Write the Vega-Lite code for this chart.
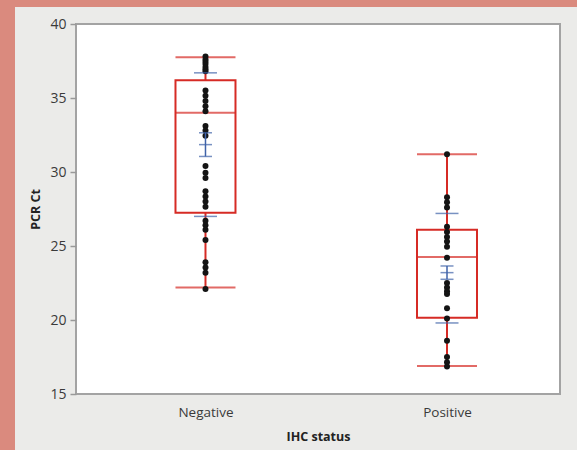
{
  "$schema": "https://vega.github.io/schema/vega-lite/v6.json",
  "background": "#ebebe9",
  "padding": 0,
  "config": {"font": "Open Sans"},
  "datasets": {
    "summary": [
      {"group": "Negative", "lower": 22.2, "q1": 27.25, "median": 34.0, "q3": 36.2, "upper": 37.75, "mean": 31.85, "seLow": 31.05, "seHigh": 32.65, "sdLow": 27.0, "sdHigh": 36.7},
      {"group": "Positive", "lower": 16.9, "q1": 20.15, "median": 24.25, "q3": 26.1, "upper": 31.2, "mean": 23.2, "seLow": 22.75, "seHigh": 23.65, "sdLow": 19.8, "sdHigh": 27.2}
    ],
    "points": [
      {"group": "Negative", "ct": 37.8}, {"group": "Negative", "ct": 37.6}, {"group": "Negative", "ct": 37.45}, {"group": "Negative", "ct": 37.3},
      {"group": "Negative", "ct": 37.1}, {"group": "Negative", "ct": 36.95}, {"group": "Negative", "ct": 36.8}, {"group": "Negative", "ct": 35.5},
      {"group": "Negative", "ct": 35.15}, {"group": "Negative", "ct": 34.8}, {"group": "Negative", "ct": 34.45}, {"group": "Negative", "ct": 34.1},
      {"group": "Negative", "ct": 33.1}, {"group": "Negative", "ct": 32.8}, {"group": "Negative", "ct": 32.45}, {"group": "Negative", "ct": 30.4},
      {"group": "Negative", "ct": 29.95}, {"group": "Negative", "ct": 29.6}, {"group": "Negative", "ct": 28.7}, {"group": "Negative", "ct": 28.35},
      {"group": "Negative", "ct": 28.0}, {"group": "Negative", "ct": 27.65}, {"group": "Negative", "ct": 26.7}, {"group": "Negative", "ct": 26.4},
      {"group": "Negative", "ct": 26.1}, {"group": "Negative", "ct": 25.4}, {"group": "Negative", "ct": 23.9}, {"group": "Negative", "ct": 23.55},
      {"group": "Negative", "ct": 23.2}, {"group": "Negative", "ct": 22.1},
      {"group": "Positive", "ct": 31.2}, {"group": "Positive", "ct": 28.3}, {"group": "Positive", "ct": 27.95}, {"group": "Positive", "ct": 27.6},
      {"group": "Positive", "ct": 26.3}, {"group": "Positive", "ct": 25.95}, {"group": "Positive", "ct": 25.6}, {"group": "Positive", "ct": 25.3},
      {"group": "Positive", "ct": 24.95}, {"group": "Positive", "ct": 24.2}, {"group": "Positive", "ct": 22.5}, {"group": "Positive", "ct": 22.2},
      {"group": "Positive", "ct": 21.95}, {"group": "Positive", "ct": 21.75}, {"group": "Positive", "ct": 20.8}, {"group": "Positive", "ct": 20.1},
      {"group": "Positive", "ct": 18.6}, {"group": "Positive", "ct": 17.5}, {"group": "Positive", "ct": 17.15}, {"group": "Positive", "ct": 16.85}
    ]
  },
  "spacing": 0,
  "vconcat": [
    {
      "width": 577, "height": 7,
      "data": {"values": [{}]},
      "mark": {"type": "rect", "fill": "#da8a7e"},
      "encoding": {},
      "view": {"stroke": null, "fill": "#da8a7e"}
    },
    {
      "spacing": 13,
      "hconcat": [
        {
          "width": 15, "height": 443,
          "data": {"values": [{}]},
          "mark": {"type": "rect", "fill": "#da8a7e"},
          "encoding": {},
          "view": {"stroke": null, "fill": "#da8a7e"}
        },
        {
          "spacing": 8,
          "vconcat": [
            {
              "width": 484, "height": 1,
              "data": {"values": [{}]},
              "mark": {"type": "rect", "fill": "#ebebe9"},
              "encoding": {},
              "view": {"stroke": null}
            },
            {
              "width": 484, "height": 370,
              "view": {"fill": "white", "stroke": "#a3a3a3", "strokeWidth": 2},
              "data": {"name": "summary"},
              "encoding": {
                "x": {
                  "field": "group", "type": "nominal",
                  "scale": {"type": "point", "padding": 0.502, "align": 0.534},
                  "axis": {
                    "title": "IHC status", "labelAngle": 0, "ticks": false, "domain": false,
                    "labelFontSize": 13.5, "labelColor": "#3a3a3a", "labelPadding": 11,
                    "titleFontSize": 12.5, "titleFontWeight": "bold", "titleColor": "#222222", "titlePadding": 12
                  }
                }
              },
              "layer": [
                {
                  "mark": {"type": "rule", "color": "#d62b25", "strokeWidth": 2},
                  "encoding": {
                    "y": {
                      "field": "lower", "type": "quantitative",
                      "scale": {"domain": [15, 40], "nice": false, "zero": false},
                      "axis": {
                        "title": "PCR Ct", "values": [15, 17.5, 20, 22.5, 25, 27.5, 30, 32.5, 35, 37.5, 40],
                        "labelExpr": "datum.value % 5 === 0 ? datum.label : ''",
                        "grid": false, "domain": false, "tickColor": "#999999", "tickWidth": 1.5,
                        "tickSize": {"condition": {"test": "datum.value % 5 !== 0", "value": 4}, "value": 6},
                        "labelFontSize": 14, "labelColor": "#3a3a3a", "labelPadding": 4,
                        "titleFontSize": 12.5, "titleFontWeight": "bold", "titleColor": "#222222", "titlePadding": 7.5
                      }
                    },
                    "y2": {"field": "q1"}
                  }
                },
                {
                  "mark": {"type": "rule", "color": "#d62b25", "strokeWidth": 2},
                  "encoding": {"y": {"field": "q3", "type": "quantitative"}, "y2": {"field": "upper"}}
                },
                {
                  "mark": {"type": "bar", "filled": false, "color": "#d62b25", "strokeWidth": 2, "size": 60},
                  "encoding": {"y": {"field": "q1", "type": "quantitative"}, "y2": {"field": "q3"}}
                },
                {
                  "mark": {"type": "tick", "color": "#d62b25", "thickness": 2, "size": 60},
                  "encoding": {"y": {"field": "median", "type": "quantitative"}}
                },
                {
                  "mark": {"type": "tick", "color": "#d62b25", "thickness": 2, "size": 60},
                  "encoding": {"y": {"field": "lower", "type": "quantitative"}}
                },
                {
                  "mark": {"type": "tick", "color": "#d62b25", "thickness": 2, "size": 60},
                  "encoding": {"y": {"field": "upper", "type": "quantitative"}}
                },
                {
                  "data": {"name": "points"},
                  "mark": {"type": "circle", "color": "#141414", "opacity": 1, "size": 36},
                  "encoding": {"y": {"field": "ct", "type": "quantitative"}}
                },
                {
                  "mark": {"type": "tick", "color": "#3f62a8", "thickness": 1.5, "size": 23},
                  "encoding": {"y": {"field": "sdLow", "type": "quantitative"}}
                },
                {
                  "mark": {"type": "tick", "color": "#3f62a8", "thickness": 1.5, "size": 23},
                  "encoding": {"y": {"field": "sdHigh", "type": "quantitative"}}
                },
                {
                  "mark": {"type": "rule", "color": "#3f62a8", "strokeWidth": 1.5},
                  "encoding": {"y": {"field": "seLow", "type": "quantitative"}, "y2": {"field": "seHigh"}}
                },
                {
                  "mark": {"type": "tick", "color": "#3f62a8", "thickness": 1.5, "size": 13},
                  "encoding": {"y": {"field": "seLow", "type": "quantitative"}}
                },
                {
                  "mark": {"type": "tick", "color": "#3f62a8", "thickness": 1.5, "size": 13},
                  "encoding": {"y": {"field": "seHigh", "type": "quantitative"}}
                },
                {
                  "mark": {"type": "tick", "color": "#3f62a8", "thickness": 1.5, "size": 13},
                  "encoding": {"y": {"field": "mean", "type": "quantitative"}}
                }
              ]
            }
          ]
        }
      ]
    }
  ]
}
